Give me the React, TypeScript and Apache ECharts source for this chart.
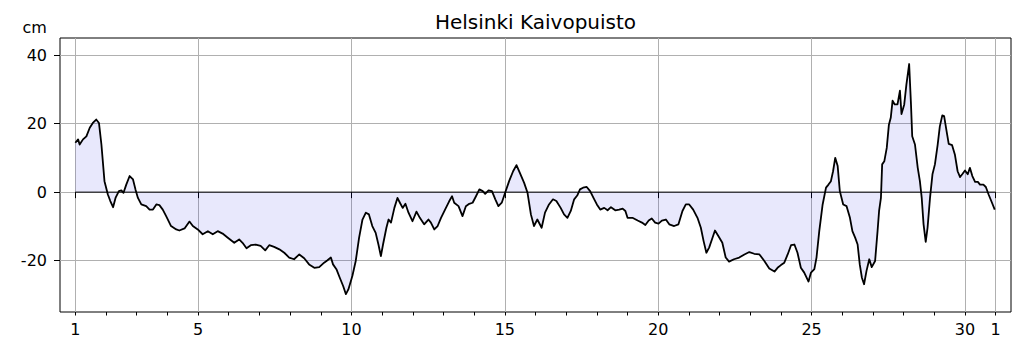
import React, { useEffect, useRef } from "react";
import * as echarts from "echarts";

const chartTitle = "Helsinki Kaivopuisto";
const unitLabel = "cm";

const days = [
  1.0, 1.09, 1.14, 1.25, 1.36, 1.47, 1.57, 1.68, 1.77, 1.85, 1.95, 2.06, 2.14, 2.23, 2.31, 2.42, 2.5, 2.57, 2.66, 2.77,
  2.88, 2.96, 3.04, 3.15, 3.31, 3.42, 3.53, 3.64, 3.74, 3.85, 3.96, 4.12, 4.29, 4.39, 4.56, 4.72, 4.83, 4.99, 5.15, 5.32,
  5.48, 5.64, 5.8, 5.97, 6.18, 6.34, 6.45, 6.58, 6.72, 6.88, 7.04, 7.19, 7.32, 7.48, 7.65, 7.81, 7.97, 8.13, 8.3, 8.46,
  8.62, 8.79, 8.95, 9.11, 9.22, 9.33, 9.4, 9.51, 9.62, 9.73, 9.82, 9.9, 10.03, 10.14, 10.25, 10.36, 10.47, 10.57, 10.68, 10.79,
  10.88, 10.96, 11.03, 11.14, 11.21, 11.29, 11.4, 11.5, 11.58, 11.67, 11.76, 11.86, 11.99, 12.12, 12.23, 12.37, 12.51, 12.59, 12.7, 12.81,
  12.92, 13.08, 13.19, 13.28, 13.35, 13.49, 13.62, 13.73, 13.84, 13.95, 14.06, 14.17, 14.28, 14.36, 14.47, 14.58, 14.69, 14.79, 14.9, 15.01,
  15.14, 15.27, 15.38, 15.49, 15.63, 15.74, 15.85, 15.95, 16.06, 16.2, 16.31, 16.44, 16.57, 16.68, 16.82, 16.93, 17.04, 17.15, 17.26, 17.36,
  17.45, 17.55, 17.67, 17.78, 17.89, 18.0, 18.11, 18.24, 18.35, 18.46, 18.6, 18.73, 18.84, 18.93, 19.0, 19.16, 19.33, 19.47, 19.58, 19.69,
  19.79, 19.9, 20.01, 20.12, 20.25, 20.36, 20.52, 20.66, 20.79, 20.9, 21.01, 21.14, 21.28, 21.39, 21.48, 21.57, 21.66, 21.77, 21.85, 21.96,
  22.09, 22.2, 22.31, 22.47, 22.64, 22.81, 22.97, 23.13, 23.3, 23.46, 23.62, 23.79, 23.89, 24.0, 24.11, 24.22, 24.33, 24.44, 24.54, 24.65,
  24.76, 24.9, 24.98, 25.09, 25.16, 25.25, 25.36, 25.47, 25.55, 25.63, 25.7, 25.77, 25.85, 25.92, 26.03, 26.14, 26.25, 26.33, 26.42, 26.5,
  26.57, 26.64, 26.71, 26.79, 26.88, 26.96, 27.07, 27.15, 27.2, 27.26, 27.3, 27.37, 27.45, 27.52, 27.58, 27.64, 27.71, 27.8, 27.88, 27.93,
  28.02, 28.09, 28.18, 28.24, 28.28, 28.37, 28.46, 28.53, 28.59, 28.65, 28.72, 28.78, 28.86, 28.94, 29.02, 29.11, 29.18, 29.26, 29.32, 29.4,
  29.47, 29.58, 29.67, 29.76, 29.84, 29.91, 30.0, 30.09, 30.16, 30.24, 30.33, 30.42, 30.49, 30.6, 30.68, 30.77, 30.88, 30.97,
];

const seaLevelCm = [
  14.4, 15.4, 13.9, 15.4, 16.3, 18.8, 20.2, 21.2, 20.2, 13.9, 3.2, -0.7, -2.6, -4.4, -1.7, 0.3, 0.5, -0.2, 2.2, 4.7,
  3.7, 0.8, -1.7, -3.6, -4.1, -5.1, -5.1, -3.6, -3.8, -5.1, -7.0, -9.9, -10.9, -11.2, -10.6, -8.6, -9.9, -10.9, -12.3, -11.4,
  -12.3, -11.4, -12.1, -13.3, -14.8, -13.8, -14.8, -16.4, -15.5, -15.3, -15.7, -17.0, -15.5, -16.0, -16.7, -17.7, -19.1, -19.6, -18.2, -19.3,
  -21.1, -22.1, -21.9, -20.6, -19.9, -19.1, -21.1, -22.5, -25.0, -27.4, -29.8, -28.4, -24.5, -20.1, -13.3, -8.0, -6.0, -6.5, -9.9, -11.9,
  -15.3, -18.7, -15.3, -10.4, -8.0, -8.9, -4.6, -1.7, -3.1, -4.6, -3.4, -6.0, -8.5, -5.7, -7.5, -9.4, -8.0, -8.9, -10.9, -9.9,
  -7.5, -4.6, -2.6, -1.2, -3.1, -4.1, -7.0, -4.1, -3.4, -3.1, -1.2, 0.8, 0.3, -0.5, 0.5, 0.3, -2.1, -4.1, -3.1, -0.2,
  3.2, 6.1, 7.9, 5.6, 2.7, -0.2, -6.5, -9.9, -8.0, -10.4, -6.0, -3.6, -2.1, -2.6, -4.6, -6.5, -7.5, -5.5, -2.1, -1.0,
  0.8, 1.3, 1.5, 0.3, -1.7, -3.6, -5.1, -4.6, -5.3, -4.4, -5.3, -5.1, -4.8, -5.5, -7.5, -7.5, -8.3, -8.9, -9.6, -8.3,
  -7.7, -8.9, -9.2, -8.3, -8.0, -9.4, -9.9, -9.4, -5.5, -3.6, -3.6, -5.1, -7.5, -10.4, -14.3, -17.7, -16.2, -13.3, -11.2, -12.8,
  -14.8, -19.1, -20.3, -19.6, -19.1, -18.2, -17.5, -18.0, -18.2, -20.1, -22.3, -23.2, -22.1, -21.3, -20.6, -18.2, -15.5, -15.3, -17.7, -22.1,
  -23.5, -26.1, -23.5, -22.5, -19.1, -11.4, -3.6, 1.3, 2.2, 3.2, 6.1, 10.0, 7.6, 0.3, -3.6, -4.1, -7.5, -11.4, -13.3, -15.3,
  -21.1, -25.0, -26.9, -23.0, -19.6, -21.9, -20.1, -11.4, -5.5, -1.7, 8.1, 9.0, 12.9, 19.7, 21.7, 26.7, 25.6, 25.6, 29.6, 22.8,
  25.6, 31.4, 37.4, 25.6, 16.3, 13.9, 7.1, 3.2, -1.7, -9.4, -14.5, -10.4, -1.7, 5.2, 8.1, 13.9, 19.2, 22.4, 22.2, 17.8,
  14.1, 13.7, 11.0, 6.1, 4.4, 5.2, 6.3, 5.2, 7.1, 4.7, 3.0, 3.0, 2.2, 2.2, 1.5, -0.7, -3.1, -5.1,
];

const xTickDays = [1, 5, 10, 15, 20, 25, 30, 31];
const xTickLabels = ["1", "5", "10", "15", "20", "25", "30", "1"];
const minorTickDays = [
  1, 2, 3, 4, 5, 6, 7, 8, 9, 10, 11, 12, 13, 14, 15, 16, 17, 18, 19, 20, 21, 22, 23, 24, 25, 26, 27, 28, 29, 30, 31,
];
const yTicks = [-20, 0, 20, 40];
const zeroLine = [
  [1, 0],
  [31, 0],
];

const FONT = "DejaVu Sans";

export default function App() {
  const ref = useRef<HTMLDivElement>(null);

  useEffect(() => {
    document.body.style.margin = "0";
    if (!ref.current) return;
    const chart = echarts.init(ref.current, null, { renderer: "svg" });
    const data = days.map((d, i) => [d, seaLevelCm[i]]);
    const xMin = 0.5;
    const xMax = 31.5;

    chart.setOption({
      animation: false,
      backgroundColor: "#ffffff",
      graphic: [
        {
          type: "text",
          x: 535.5,
          y: 21.5,
          style: {
            text: chartTitle,
            fill: "#000",
            font: `20px "${FONT}"`,
            textAlign: "center",
            textVerticalAlign: "middle",
          },
        },
        {
          type: "text",
          x: 22.5,
          y: 27.5,
          style: {
            text: unitLabel,
            fill: "#000",
            font: `16px "${FONT}"`,
            textAlign: "left",
            textVerticalAlign: "middle",
          },
        },
      ],
      grid: {
        left: 60,
        top: 38,
        right: 12,
        bottom: 40,
        show: true,
        borderColor: "#000",
        borderWidth: 1,
        backgroundColor: "transparent",
        containLabel: false,
      },
      xAxis: [
        {
          type: "value",
          min: xMin,
          max: xMax,
          axisLine: { show: false },
          axisTick: {
            show: true,
            customValues: xTickDays,
            length: 6,
            lineStyle: { color: "#000", width: 1 },
          },
          axisLabel: {
            show: true,
            customValues: xTickDays,
            formatter: (v: number) => {
              const i = xTickDays.indexOf(Math.round(v));
              return i >= 0 ? xTickLabels[i] : "";
            },
            margin: 9,
            color: "#000",
            fontSize: 16,
            fontFamily: FONT,
          },
          splitLine: { show: true, lineStyle: { color: "#b0b0b0", width: 1 } },
        },
        {
          type: "value",
          min: xMin,
          max: xMax,
          position: "bottom",
          axisLine: { show: false },
          axisTick: {
            show: true,
            customValues: minorTickDays,
            length: 3.5,
            lineStyle: { color: "#000", width: 1 },
          },
          axisLabel: { show: false },
          splitLine: { show: false },
        },
      ],
      yAxis: {
        type: "value",
        min: -35,
        max: 45,
        axisLine: { show: false },
        axisTick: {
          show: true,
          customValues: yTicks,
          length: 6,
          lineStyle: { color: "#000", width: 1 },
        },
        axisLabel: {
          show: true,
          customValues: yTicks,
          margin: 13,
          color: "#000",
          fontSize: 16,
          fontFamily: FONT,
        },
        splitLine: { show: true, lineStyle: { color: "#b0b0b0", width: 1 } },
      },
      series: [
        {
          type: "line",
          data,
          xAxisIndex: 0,
          symbol: "none",
          showSymbol: false,
          lineStyle: { color: "#000", width: 1.8, join: "round" },
          areaStyle: { color: "rgba(0,0,220,0.13)", origin: 0 },
          z: 3,
        },
        {
          type: "line",
          data: zeroLine,
          xAxisIndex: 0,
          symbol: "none",
          showSymbol: false,
          lineStyle: { color: "#000", width: 1 },
          z: 3,
        },
      ],
    });

    return () => chart.dispose();
  }, []);

  return <div ref={ref} style={{ width: 1023, height: 352 }} />;
}
